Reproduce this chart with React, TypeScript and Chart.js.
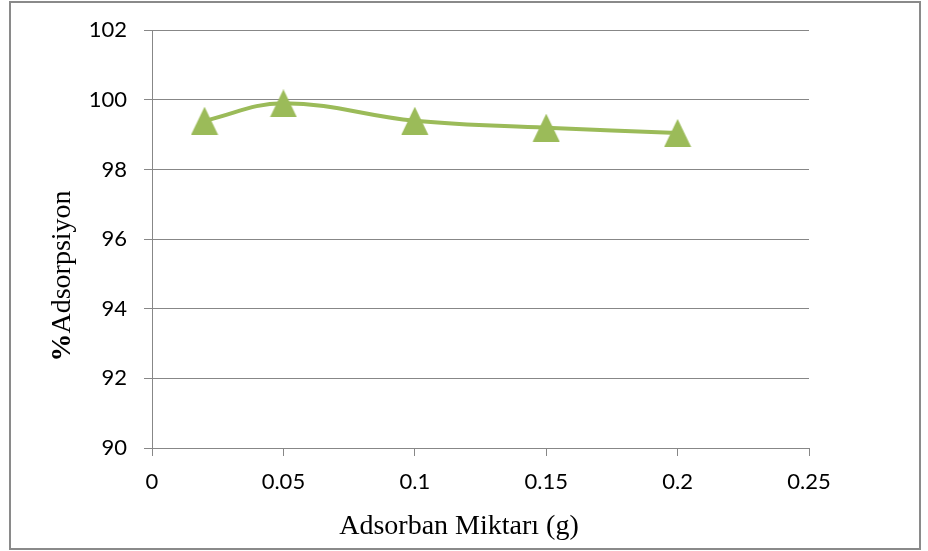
import React, { useEffect, useRef } from "react";
import { Chart, registerables } from "chart.js";

Chart.register(...registerables);

// ---- data ----
const adsorbentAmount = [0.02, 0.05, 0.1, 0.15, 0.2];
const adsorptionPercent = [99.4, 99.9, 99.4, 99.2, 99.05];
const xTitle = "Adsorban Miktarı (g)";
const yTitlePrefix = "%";
const yTitleRest = "Adsorpsiyon";
const yMin = 90;
const yMax = 102;
const yStep = 2;
const xMin = 0;
const xMax = 0.25;
const xStep = 0.05;

const W = 928;
const H = 551;
const GREEN = "#9BBB59";
const GRID = "#878787";

function makeTriangle(): HTMLCanvasElement {
  const c = document.createElement("canvas");
  const w = 28;
  const h = 28;
  c.width = w;
  c.height = h;
  const ctx = c.getContext("2d")!;
  ctx.fillStyle = GREEN;
  ctx.beginPath();
  ctx.moveTo(w / 2, 0);
  ctx.lineTo(w - 0.5, h);
  ctx.lineTo(0.5, h);
  ctx.closePath();
  ctx.fill();
  return c;
}

const decorPlugin = {
  id: "decor",
  afterDraw(chart: any) {
    const ctx = chart.ctx as CanvasRenderingContext2D;
    ctx.save();
    // outer border
    ctx.strokeStyle = "#8a8a8a";
    ctx.lineWidth = 2;
    ctx.strokeRect(10, 2, 910, 547);
    // x title
    ctx.fillStyle = "#000";
    ctx.font = "28px 'Liberation Serif', serif";
    ctx.textAlign = "center";
    ctx.textBaseline = "alphabetic";
    ctx.fillText(xTitle, 459, 534);
    // y title (rotated), bold % + regular rest
    ctx.translate(70, 276);
    ctx.rotate(-Math.PI / 2);
    ctx.font = "bold 28px 'Liberation Serif', serif";
    const w1 = ctx.measureText(yTitlePrefix).width;
    ctx.font = "28px 'Liberation Serif', serif";
    const w2 = ctx.measureText(yTitleRest).width;
    const start = -(w1 + w2) / 2;
    ctx.textAlign = "left";
    ctx.font = "bold 28px 'Liberation Serif', serif";
    ctx.fillText(yTitlePrefix, start, 0);
    ctx.font = "28px 'Liberation Serif', serif";
    ctx.fillText(yTitleRest, start + w1, 0);
    ctx.restore();
  },
};

export default function App() {
  const ref = useRef<HTMLCanvasElement | null>(null);

  useEffect(() => {
    if (!ref.current) return;
    const tri = makeTriangle();
    const chart = new Chart(ref.current, {
      type: "line",
      data: {
        datasets: [
          {
            data: adsorbentAmount.map((x, i) => ({ x, y: adsorptionPercent[i] })),
            borderColor: GREEN,
            backgroundColor: GREEN,
            borderWidth: 4,
            tension: 0.4,
            pointStyle: tri as any,
            pointRadius: 14,
            fill: false,
          },
        ],
      },
      options: {
        animation: false,
        responsive: false,
        devicePixelRatio: 1,
        layout: { padding: { left: 0, top: 27, right: W - 809, bottom: 0 } },
        plugins: { legend: { display: false }, tooltip: { enabled: false } },
        scales: {
          x: {
            type: "linear",
            min: xMin,
            max: xMax,
            afterFit: (s: any) => {
              s.height = H - 448;
            },
            ticks: {
              stepSize: xStep,
              color: "#000",
              font: { family: "Lato", size: 22 },
              padding: 13,
              maxRotation: 0,
              callback: (v: any) => String(+Number(v).toFixed(2)),
            },
            grid: {
              drawOnChartArea: false,
              drawTicks: true,
              tickLength: 8,
              color: GRID,
              lineWidth: 1,
            },
            border: { color: GRID, width: 1 },
          },
          y: {
            type: "linear",
            min: yMin,
            max: yMax,
            afterFit: (s: any) => {
              s.width = 152;
            },
            ticks: {
              stepSize: yStep,
              color: "#000",
              font: { family: "Lato", size: 22 },
              padding: 17,
            },
            grid: {
              drawTicks: true,
              tickLength: 8,
              color: GRID,
              lineWidth: 1,
            },
            border: { color: GRID, width: 1 },
          },
        },
      },
      plugins: [decorPlugin],
    });
    return () => chart.destroy();
  }, []);

  return (
    <div style={{ position: "fixed", left: 0, top: 0, width: W, height: H, background: "#fff" }}>
      <canvas ref={ref} width={W} height={H} style={{ display: "block", width: W, height: H }} />
    </div>
  );
}
